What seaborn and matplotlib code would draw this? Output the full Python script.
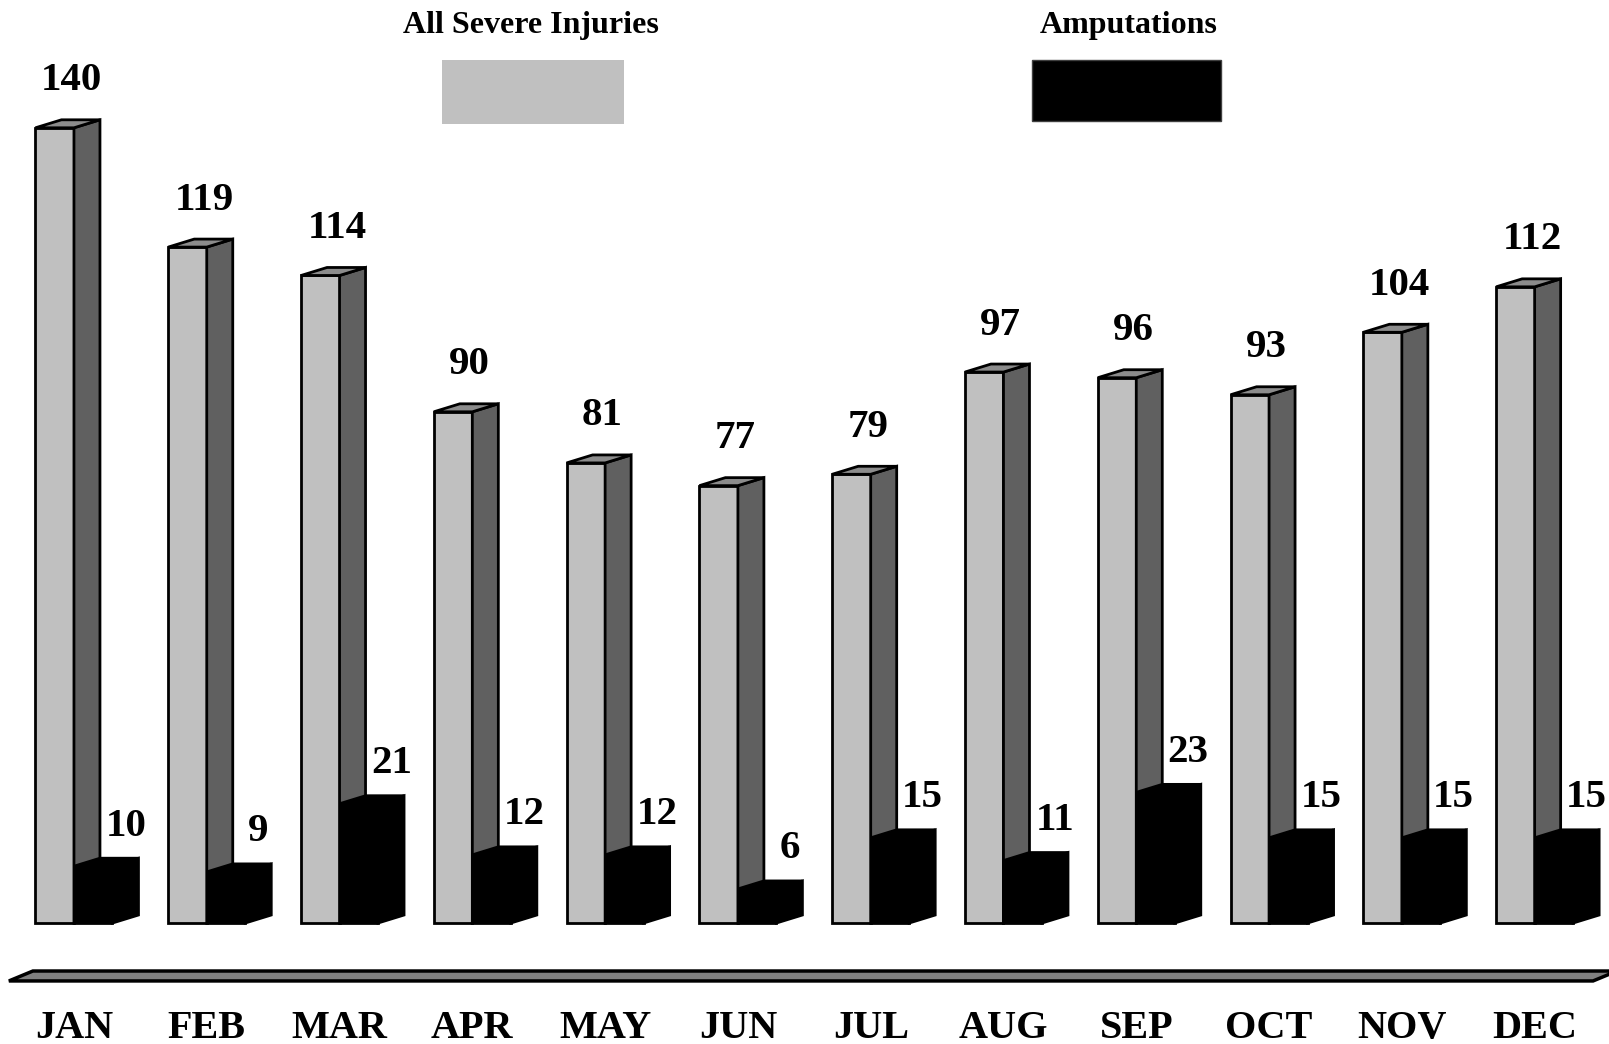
import pandas as pd
import matplotlib
matplotlib.use('Agg')
import matplotlib.pyplot as plt
import matplotlib.transforms as mtransforms
import seaborn as sns
from matplotlib.patches import Polygon, Rectangle

# Data
months = ['JAN', 'FEB', 'MAR', 'APR', 'MAY', 'JUN', 'JUL', 'AUG', 'SEP', 'OCT', 'NOV', 'DEC']
severe = [140, 119, 114, 90, 81, 77, 79, 97, 96, 93, 104, 112]
amputations = [10, 9, 21, 12, 12, 6, 15, 11, 23, 15, 15, 15]
series = ['All Severe Injuries', 'Amputations']

front_colors = {series[0]: '#c0c0c0', series[1]: '#000000'}
side_colors = {series[0]: '#606060', series[1]: '#000000'}
top_colors = {series[0]: '#8c8c8c', series[1]: '#000000'}

df = pd.DataFrame({
    'month': months * 2,
    'series': [series[0]] * len(months) + [series[1]] * len(months),
    'count': severe + amputations,
})

sns.set_style('white')
plt.rcParams['font.family'] = ['Liberation Serif', 'DejaVu Serif']
plt.rcParams['font.weight'] = 'bold'
plt.rcParams['text.color'] = 'black'

fig = plt.figure(figsize=(16.09, 10.44), dpi=100)
ax = fig.add_axes([0, 0, 1, 1])
sns.barplot(data=df, x='month', y='count', hue='series', palette=front_colors,
            saturation=1, width=0.58, edgecolor='black', linewidth=2,
            legend=False, ax=ax)
ax.set_xlim(-0.557, 11.56)
ax.set_ylim(-21.3, 162.5)
ax.axis('off')

# depth of the fake 3D faces, in pixels -> data units
p0 = ax.transData.transform((0, 0))
p1 = ax.transData.transform((1, 1))
ux, uy = p1[0] - p0[0], p1[1] - p0[1]
dx, dy = 26 / ux, 8 / uy

for k, (cont, name) in enumerate(zip(ax.containers, series)):
    zf = 2 + 2 * k
    for bar in cont:
        x0, w, h = bar.get_x(), bar.get_width(), bar.get_height()
        bar.set_zorder(zf)
        side = [(x0 + w, 0), (x0 + w + dx, dy), (x0 + w + dx, h + dy), (x0 + w, h)]
        top = [(x0, h), (x0 + dx, h + dy), (x0 + w + dx, h + dy), (x0 + w, h)]
        ax.add_patch(Polygon(side, closed=True, facecolor=side_colors[name],
                             edgecolor='black', linewidth=2, zorder=zf + 0.5))
        ax.add_patch(Polygon(top, closed=True, facecolor=top_colors[name],
                             edgecolor='black', linewidth=2, zorder=zf + 0.5))

# floor slab
fy0, fy1 = -10.2, -8.45
floor = [(-0.49, fy0), (11.44, fy0), (11.44 + 24 / ux, fy1), (-0.49 + 24 / ux, fy1)]
ax.add_patch(Polygon(floor, closed=True, facecolor='#808080', edgecolor='black',
                     linewidth=2.5, zorder=1))

# value labels
for i, v in enumerate(severe):
    ax.annotate(str(v), (i - 0.02, v), xytext=(0, 27), textcoords='offset points',
                ha='center', va='baseline', fontsize=29.5, fontweight='bold')
for i, v in enumerate(amputations):
    ax.annotate(str(v), (i + 0.39, v), xytext=(0, 22), textcoords='offset points',
                ha='center', va='baseline', fontsize=29.5, fontweight='bold')

# month labels
trans = mtransforms.blended_transform_factory(ax.transData, ax.transAxes)
for i, m in enumerate(months):
    ax.text(i, 0.006, m, transform=trans, ha='center', va='baseline',
            fontsize=29, fontweight='bold')

# legend drawn at the top
W, H = 1609, 1044
fig.text(531 / W, 1 - 33 / H, series[0], ha='center', va='baseline',
         fontsize=23, fontweight='bold')
fig.text(1129 / W, 1 - 33 / H, series[1], ha='center', va='baseline',
         fontsize=23, fontweight='bold')
fig.add_artist(Rectangle((442 / W, 1 - 124 / H), 182 / W, 64 / H,
                         transform=fig.transFigure, facecolor=front_colors[series[0]],
                         edgecolor='none'))
fig.add_artist(Rectangle((1032 / W, 1 - 121 / H), 189 / W, 61 / H,
                         transform=fig.transFigure, facecolor=front_colors[series[1]],
                         edgecolor='#404040', linewidth=1))

fig.savefig('out.png', dpi=100)
